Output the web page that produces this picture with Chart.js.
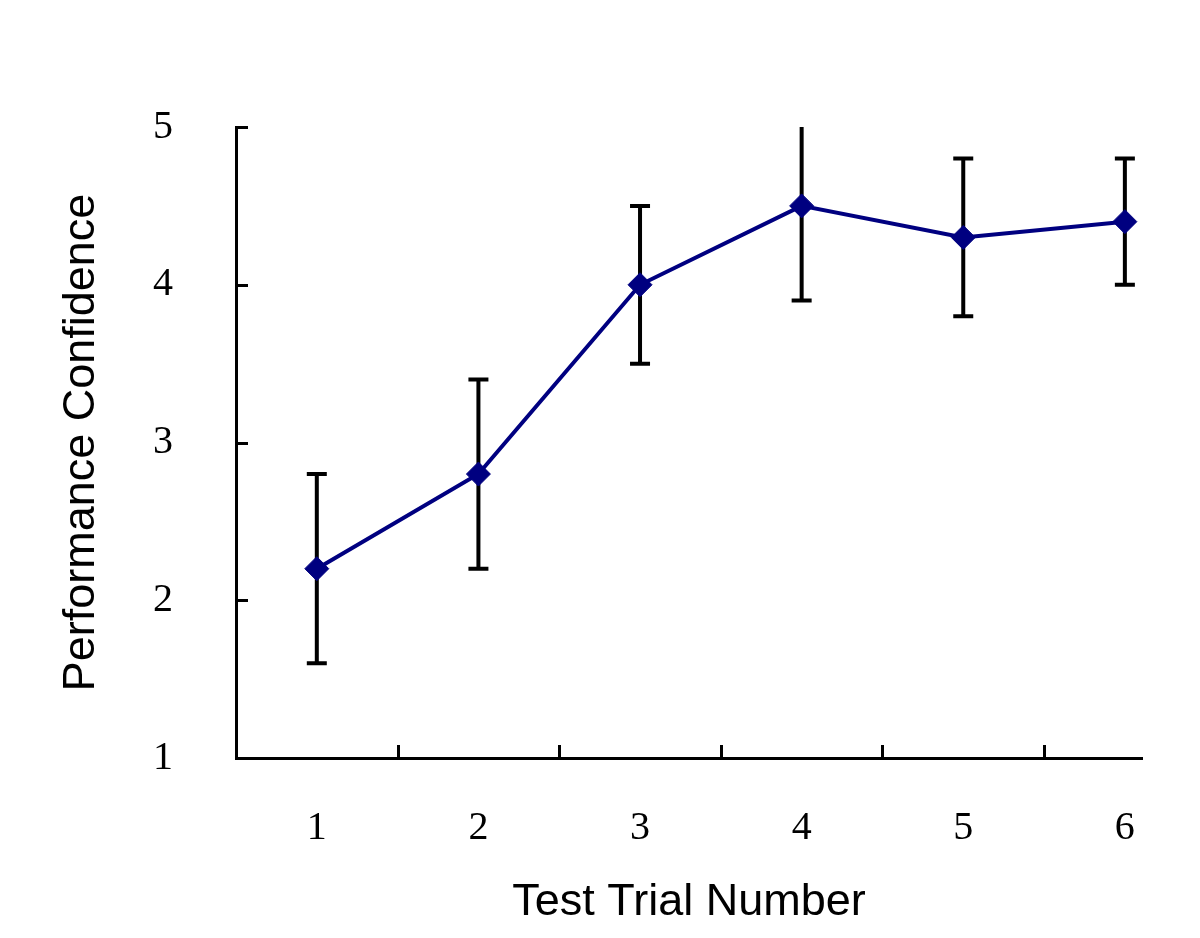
<!DOCTYPE html>
<html>
<head>
<meta charset="utf-8">
<script src="https://cdn.jsdelivr.net/npm/chart.js@4"></script>
<style>
  html, body { margin: 0; padding: 0; background: #fff; }
  #wrap { width: 1200px; height: 938px; }
</style>
</head>
<body>
<div id="wrap"><canvas id="chart" width="1200" height="938"></canvas></div>
<script>
const trials = [1, 2, 3, 4, 5, 6];
const means = [2.2, 2.8, 4.0, 4.5, 4.3, 4.4];
const errLow = [1.6, 2.2, 3.5, 3.9, 3.8, 4.0];
const errHigh = [2.8, 3.4, 4.5, 5.1, 4.8, 4.8];
const yTicks = [1, 2, 3, 4, 5];
const xDividers = [1.5, 2.5, 3.5, 4.5, 5.5];

const tickFont = { family: 'Liberation Serif', size: 40, lineHeight: 1.2 };
const titleFont = { family: 'Liberation Sans', size: 45, lineHeight: 1.2 };

// error bars, clipped to the plot area (top of trial 4 runs off)
const errorBars = {
  id: 'errorBars',
  beforeDatasetsDraw(chart) {
    const {ctx, chartArea, scales: {x, y}} = chart;
    ctx.save();
    ctx.beginPath();
    ctx.rect(chartArea.left, chartArea.top, chartArea.right - chartArea.left, chartArea.bottom - chartArea.top);
    ctx.clip();
    ctx.strokeStyle = '#000';
    ctx.lineWidth = 4;
    for (var i = 0; i < trials.length; i++) {
      const px = x.getPixelForValue(trials[i]);
      const lo = y.getPixelForValue(errLow[i]);
      const hi = y.getPixelForValue(errHigh[i]);
      ctx.beginPath();
      ctx.moveTo(px, lo);
      ctx.lineTo(px, hi);
      ctx.moveTo(px - 10, lo);
      ctx.lineTo(px + 10, lo);
      ctx.moveTo(px - 10, hi);
      ctx.lineTo(px + 10, hi);
      ctx.stroke();
    }
    ctx.restore();
  }
};

// inward tick marks on both axes
const innerTicks = {
  id: 'innerTicks',
  afterDraw(chart) {
    const {ctx, chartArea, scales: {x, y}} = chart;
    ctx.save();
    ctx.strokeStyle = '#000';
    ctx.lineWidth = 3;
    ctx.beginPath();
    yTicks.slice(1).forEach((v) => {
      const py = Math.round(y.getPixelForValue(v)) + 0.5;
      ctx.moveTo(chartArea.left, py);
      ctx.lineTo(chartArea.left + 12, py);
    });
    xDividers.forEach((v) => {
      const px = Math.round(x.getPixelForValue(v)) + 0.5;
      ctx.moveTo(px, chartArea.bottom);
      ctx.lineTo(px, chartArea.bottom - 13);
    });
    ctx.stroke();
    ctx.restore();
  }
};

new Chart(document.getElementById('chart'), {
  type: 'line',
  data: {
    datasets: [{
      data: trials.map((t, i) => ({ x: t, y: means[i] })),
      borderColor: '#000080',
      backgroundColor: '#000080',
      borderWidth: 4,
      pointStyle: 'rectRot',
      pointRadius: 12,
      pointBorderWidth: 1,
      tension: 0,
      clip: false
    }]
  },
  options: {
    responsive: false,
    animation: false,
    layout: { padding: { top: 127, right: 58, left: 0, bottom: 0 } },
    plugins: { legend: { display: false }, tooltip: { enabled: false } },
    scales: {
      x: {
        type: 'linear',
        min: 0.5,
        max: 6.106,
        afterBuildTicks(scale) { scale.ticks = trials.map((v) => ({ value: v })); },
        afterFit(scale) { scale.height = 180; },
        grid: { display: false },
        border: { display: true, color: '#000', width: 3 },
        ticks: { color: '#000', font: tickFont, padding: 38, maxRotation: 0,
                 callback: (v) => String(v) },
        title: { display: true, text: 'Test Trial Number', color: '#000',
                 font: titleFont, padding: { top: 0, bottom: 8 } }
      },
      y: {
        min: 1,
        max: 5,
        afterBuildTicks(scale) { scale.ticks = yTicks.map((v) => ({ value: v })); },
        afterFit(scale) { scale.width = 236; },
        grid: { display: false },
        border: { display: true, color: '#000', width: 3 },
        ticks: { color: '#000', font: tickFont, padding: 55,
                 callback: (v) => String(v) },
        title: { display: true, text: 'Performance Confidence', color: '#000',
                 font: titleFont, padding: { top: 55, bottom: 0 } }
      }
    }
  },
  plugins: [errorBars, innerTicks]
});
</script>
</body>
</html>
